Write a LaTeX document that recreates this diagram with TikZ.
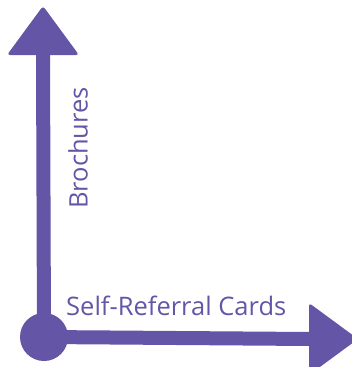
\documentclass[tikz,border=0pt]{standalone}
\usepackage{fontspec}
\setmainfont{Open Sans}
\definecolor{axispurple}{RGB}{101,85,166}
\tikzset{
  shaft/.style={line width=14pt, draw=axispurple},
  head/.style={fill=axispurple, rounded corners=3pt},
  axislabel/.style={text=axispurple, font=\fontsize{25.5}{30}\selectfont, inner sep=0pt}
}
\begin{document}
\begin{tikzpicture}[x=1pt,y=-1pt]
\useasboundingbox (0,0) rectangle (352,367);
\node[circle, fill=axispurple, minimum size=48pt, inner sep=0pt] (origin) at (44,337) {};
\coordinate (ytop) at (43,55);
\coordinate (xend) at (310,339);
\draw[shaft] (origin.center) -- (ytop);
\draw[shaft] (origin.center) -- (xend);
% arrow heads
\fill[head] (7,55) -- (43,6) -- (79,55) -- cycle;
\fill[head] (309,303) -- (358,339) -- (309,375) -- cycle;
\node[axislabel, rotate=90, anchor=south west] (ylabel) at (88,209) {Brochures};
\node[axislabel, anchor=base west] (xlabel) at (66,315) {Self-Referral Cards};
\end{tikzpicture}
\end{document}
